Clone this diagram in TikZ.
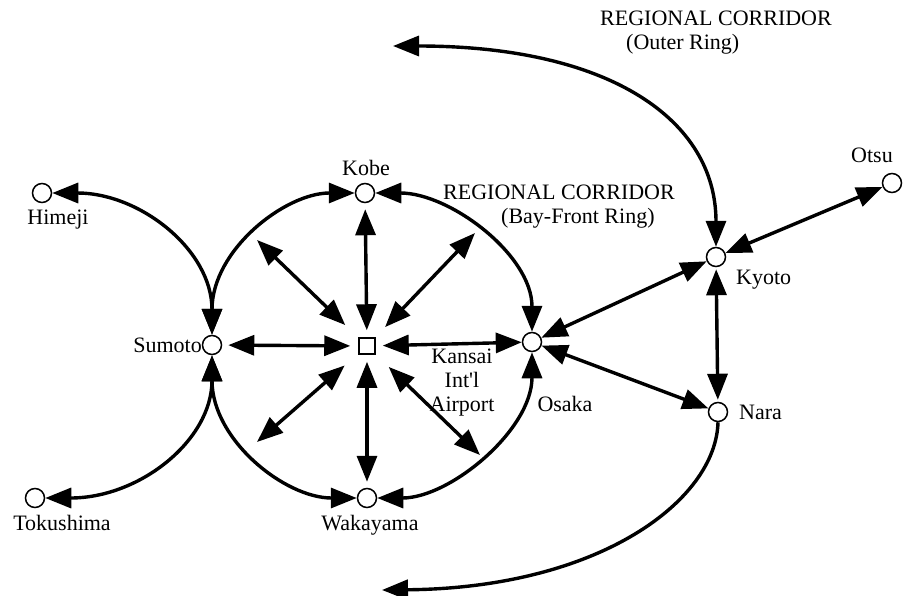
\documentclass[tikz,border=0pt]{standalone}
\usepackage{fontspec}
\setmainfont{Liberation Serif}
\usetikzlibrary{arrows.meta}
\begin{document}
\begin{tikzpicture}[x=1pt,y=-1pt,
  city/.style={circle,draw,line width=1.5pt,minimum size=19pt,inner sep=0pt},
  hub/.style={rectangle,draw,line width=1.5pt,minimum size=16pt,inner sep=0pt},
  lbl/.style={font=\fontsize{22}{24}\selectfont,inner sep=0pt,anchor=base},
  link/.style={line width=3.4pt,{Triangle[length=26pt,width=20pt]}-{Triangle[length=26pt,width=20pt]}},
  onelink/.style={line width=3.4pt,-{Triangle[length=26pt,width=20pt]}}]
\useasboundingbox (0,0) rectangle (903,595);
% nodes
\node[city] (kobe) at (365,193) {};
\node[city] (sumoto) at (212,345) {};
\node[city] (osaka) at (532,342) {};
\node[city] (waka) at (367,498) {};
\node[hub] (kix) at (367,346) {};
\node[city] (himeji) at (42,193) {};
\node[city] (toku) at (35,498) {};
\node[city] (kyoto) at (716,257) {};
\node[city] (nara) at (718,412) {};
\node[city] (otsu) at (892,183) {};
\coordinate (nw) at (257,240);
\coordinate (ne) at (475,233);
\coordinate (sw) at (257,442);
\coordinate (se) at (480,455);
\coordinate (outerN) at (393,46);
\coordinate (outerS) at (382,590);
% bay-front ring
\draw[link] (himeji) .. controls (140,193) and (212,250) .. (sumoto.north);
\draw[link] (toku) .. controls (140,498) and (212,440) .. (sumoto.south);
\draw[link] (sumoto.north) .. controls (212,250) and (285,193) .. (kobe.west);
\draw[link] (kobe.east) .. controls (450,193) and (532,255) .. (osaka.north);
\draw[link] (sumoto.south) .. controls (212,440) and (285,498) .. (waka.west);
\draw[link] (osaka.south) .. controls (532,430) and (450,498) .. (waka.east);
% spokes
\draw[link, shorten <=7pt, shorten >=6pt] (kix) -- (kobe);
\draw[link, shorten <=7pt, shorten >=6pt] (kix) -- (waka);
\draw[link, shorten <=8pt, shorten >=6pt] (kix) -- (sumoto);
\draw[link, shorten <=7pt] (kix) -- (osaka);
\draw[link, shorten <=18pt] (kix) -- (nw);
\draw[link, shorten <=14pt] (kix) -- (ne);
\draw[link, shorten <=18pt] (kix) -- (sw);
\draw[link, shorten <=18pt] (kix) -- (se);
% right side
\draw[link] (osaka) -- (kyoto);
\draw[link] (osaka) -- (nara);
\draw[link, shorten <=2pt, shorten >=2pt] (kyoto) -- (nara);
\draw[link] (kyoto) -- (otsu);
% outer ring
\draw[link] (outerN) .. controls (610,46) and (716,120) .. (kyoto.north);
\draw[onelink] (nara.south) .. controls (716,500) and (600,588) .. (outerS);
% labels
\node[lbl] (kobeL) at (366,175) {Kobe};
\node[lbl] (himejiL) at (58,224) {Himeji};
\node[lbl, anchor=base east] (sumotoL) at (202,352) {Sumoto};
\node[lbl] (tokuL) at (62,530) {Tokushima};
\node[lbl] (wakaL) at (370,530) {Wakayama};
\node[lbl] (osakaL) at (565,411) {Osaka};
\node[lbl, anchor=base west] (kyotoL) at (736,284) {Kyoto};
\node[lbl, anchor=base west] (naraL) at (739,419) {Nara};
\node[lbl] (otsuL) at (872,162) {Otsu};
\node[lbl, anchor=north, align=center] (kixL) at (462,349) {Kansai\\Int\textquotesingle l\\Airport};
\node[lbl, anchor=north west, align=left] (bayL) at (443,185) {REGIONAL CORRIDOR\\\hspace*{58pt}(Bay-Front Ring)};
\node[lbl, anchor=north west, align=left] (outerL) at (600,11) {REGIONAL CORRIDOR\\\hspace*{26pt}(Outer Ring)};
\end{tikzpicture}
\end{document}
